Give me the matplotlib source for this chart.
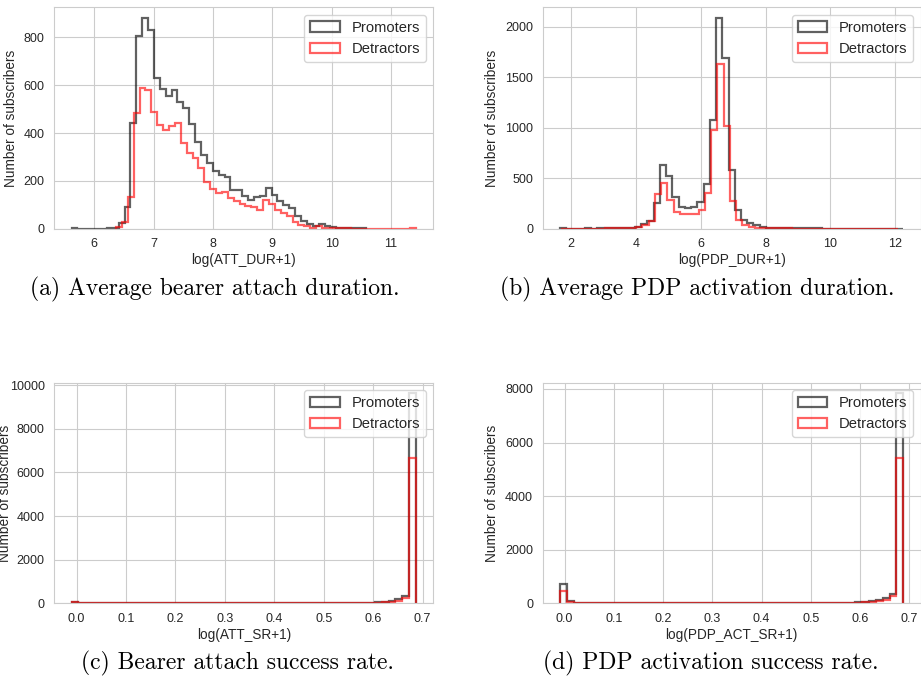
import numpy as np
import matplotlib
matplotlib.use('Agg')
import matplotlib.pyplot as plt
import seaborn as sns

## DADOS (contagens por classe)
# (a) log(ATT_DUR+1)
att_dur_prom_start, att_dur_det_start, att_dur_width = 5.616, 6.366, 0.0992
att_dur_prom = [1, 0, 0, 0, 0, 0, 1, 4, 22, 92, 443, 807, 882, 833, 631, 583, 556,
                580, 531, 503, 438, 364, 308, 276, 242, 224, 217, 162, 162, 135, 120,
                132, 138, 170, 142, 118, 98, 88, 55, 32, 18, 12, 18, 12, 6, 3, 2, 2, 1, 1]
att_dur_det = [8, 28, 134, 485, 590, 582, 490, 435, 415, 428, 442, 358, 315, 296,
               255, 196, 168, 150, 155, 130, 118, 105, 95, 90, 80, 122, 105, 80, 65,
               52, 30, 15, 10, 5, 12, 5, 3, 1, 1, 1, 0, 0, 0, 0, 0, 0, 0, 0, 0, 0, 1]

# (b) log(PDP_DUR+1)
pdp_dur_prom_start, pdp_dur_det_start, pdp_dur_width = 1.66, 1.70, 0.1925
pdp_dur_prom = [3, 2, 2, 2, 3, 2, 3, 3, 4, 6, 8, 12, 20, 45, 80, 252, 632, 523, 318,
                218, 202, 218, 268, 440, 1080, 2089, 1692, 583, 185, 86, 53, 33, 20,
                12, 8, 6, 5, 4, 4, 3, 3, 3, 2, 2, 2, 2, 2, 2, 1, 1, 1, 1, 1, 1, 1]
pdp_dur_det = [2, 2, 2, 2, 2, 2, 2, 3, 3, 4, 8, 10, 18, 35, 80, 344, 457, 285, 169,
               142, 142, 142, 185, 358, 980, 1636, 1013, 275, 86, 40, 20, 12, 8, 5,
               4, 3, 3, 2, 2, 2, 2, 2, 1, 1, 1, 1, 1, 1, 1, 1, 1, 1, 1, 1]

# (c) log(ATT_SR+1)
att_sr_start, att_sr_width = -0.0101, 0.01394
att_sr_prom = [80, 8, 3, 3, 3, 3, 3, 3, 3, 3, 3, 2, 2, 2, 2, 2, 2, 2, 2, 2, 2, 2, 2,
               2, 2, 2, 2, 2, 2, 2, 2, 3, 3, 4, 4, 5, 6, 8, 10, 12, 15, 20, 25, 30,
               45, 70, 122, 183, 351, 9630]
att_sr_det = [60, 5, 2, 2, 2, 2, 2, 2, 2, 2, 2, 1, 1, 1, 1, 1, 1, 1, 1, 1, 1, 1, 1,
              1, 1, 1, 1, 1, 1, 1, 1, 2, 2, 3, 3, 4, 4, 6, 7, 8, 10, 14, 18, 22, 30,
              45, 75, 122, 229, 6640]

# (d) log(PDP_ACT_SR+1)
pdp_sr_start, pdp_sr_width = -0.0094, 0.01395
pdp_sr_prom = [734, 86, 20, 8, 6, 5, 4, 4, 4, 4, 4, 4, 4, 4, 4, 4, 5, 5, 5, 5, 5, 5,
               5, 5, 5, 6, 6, 6, 8, 15, 8, 6, 6, 6, 8, 10, 8, 10, 12, 20, 22, 25, 30,
               40, 60, 87, 124, 187, 348, 7840]
pdp_sr_det = [448, 45, 12, 5, 4, 3, 3, 3, 3, 3, 3, 3, 3, 3, 3, 3, 3, 3, 3, 3, 3, 3,
              3, 3, 4, 4, 4, 4, 5, 10, 5, 4, 4, 4, 5, 6, 5, 6, 8, 12, 14, 16, 20, 25,
              37, 50, 75, 124, 286, 5410]

paineis = [
    ('log(ATT_DUR+1)', att_dur_prom, att_dur_prom_start, att_dur_det, att_dur_det_start, att_dur_width,
     '(a) Average bearer attach duration.'),
    ('log(PDP_DUR+1)', pdp_dur_prom, pdp_dur_prom_start, pdp_dur_det, pdp_dur_det_start, pdp_dur_width,
     '(b) Average PDP activation duration.'),
    ('log(ATT_SR+1)', att_sr_prom, att_sr_start, att_sr_det, att_sr_start, att_sr_width,
     '(c) Bearer attach success rate.'),
    ('log(PDP_ACT_SR+1)', pdp_sr_prom, pdp_sr_start, pdp_sr_det, pdp_sr_start, pdp_sr_width,
     '(d) PDP activation success rate.'),
]

### GRÁFICO
sns.set_style('whitegrid')
plt.rcParams['font.family'] = ['Liberation Sans', 'DejaVu Sans']
plt.rcParams['text.color'] = '.15'
plt.rcParams['axes.labelcolor'] = '.15'
plt.rcParams['xtick.color'] = '.15'
plt.rcParams['ytick.color'] = '.15'

fig = plt.figure(figsize=(9.21, 6.99), dpi=100)
posicoes = [[0.059, 0.6728, 0.4115, 0.3167],
            [0.5893, 0.6728, 0.4102, 0.3167],
            [0.059, 0.1369, 0.4115, 0.3156],
            [0.5893, 0.1369, 0.4102, 0.3156]]
legendas_xy = [(215, 289), (697, 289), (237, 663), (711, 663)]
ypads = [4, 4, -2, 4]

for (xlabel, prom, p0, det, d0, w, legenda), pos, (cx, cy), ypad in zip(paineis, posicoes, legendas_xy, ypads):
    ax = fig.add_axes(pos)
    bordas_p = p0 + w * np.arange(len(prom) + 1)
    bordas_d = d0 + w * np.arange(len(det) + 1)
    ax.hist(bordas_p[:-1], bins=bordas_p, weights=prom, histtype='step',
            color='black', alpha=0.62, linewidth=1.6, label='Promoters')
    ax.hist(bordas_d[:-1], bins=bordas_d, weights=det, histtype='step',
            color='red', alpha=0.62, linewidth=1.6, label='Detractors')
    ax.set_xlabel(xlabel, fontsize=9.8, labelpad=2)
    ax.set_ylabel('Number of subscribers', fontsize=9.8, labelpad=ypad)
    ax.tick_params(labelsize=9)
    ax.legend(loc='upper right', fontsize=10.6)
    fig.text(cx / 921, 1 - cy / 699, legenda, ha='center', va='center',
             fontsize=17, family='cmr10', color='black')

plt.savefig('out.png', dpi=100)
